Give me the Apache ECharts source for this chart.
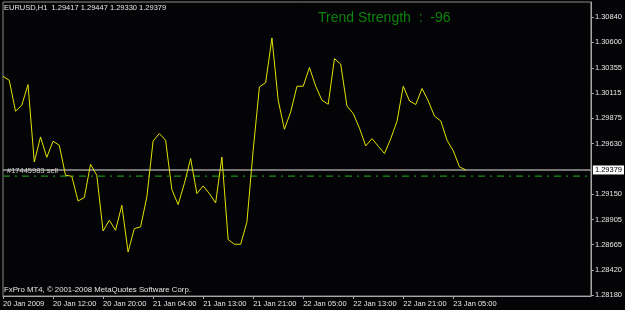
<!DOCTYPE html>
<html>
<head>
<meta charset="utf-8">
<script src="https://cdn.jsdelivr.net/npm/echarts@6/dist/echarts.min.js"></script>
<style>
html,body{margin:0;padding:0;background:#040406;}
#chart{width:625px;height:310px;}
</style>
</head>
<body>
<div id="chart"></div>
<script>
// ---- data ----
const closes = [
  1.30275, 1.30237, 1.29941, 1.29998, 1.30196, 1.29455, 1.29695, 1.29500, 1.29654, 1.29615,
  1.29328, 1.29319, 1.29082, 1.29115, 1.29433, 1.29328, 1.28795, 1.28898, 1.28802, 1.29041,
  1.28594, 1.28818, 1.28834, 1.29121, 1.29656, 1.29727, 1.29663, 1.29191, 1.29048, 1.29249,
  1.29488, 1.29153, 1.29226, 1.29153, 1.29063, 1.29503, 1.28713, 1.28668, 1.28668, 1.28879,
  1.29567, 1.30173, 1.30215, 1.30642, 1.30046, 1.29768, 1.29934, 1.30180, 1.30180, 1.30359,
  1.30180, 1.30046, 1.30008, 1.30445, 1.30390, 1.29991, 1.29919, 1.29778, 1.29609, 1.29679,
  1.29606, 1.29536, 1.29679, 1.29845, 1.30180, 1.30039, 1.30005, 1.30158, 1.30039, 1.29893,
  1.29848, 1.29663, 1.29561, 1.29408, 1.29379
];
const xTickLabels = ['20 Jan 2009','20 Jan 12:00','20 Jan 20:00','21 Jan 04:00','21 Jan 13:00',
  '21 Jan 21:00','22 Jan 05:00','22 Jan 13:00','22 Jan 21:00','23 Jan 05:00'];
const barsPerTick = 8;
const visibleBars = 95;
const yTickValues = [1.28180,1.28420,1.28665,1.28905,1.29150,1.29630,1.29875,1.30115,1.30355,1.30600,1.30840];
const bidPrice = 1.29379;
const orderPrice = 1.29320;
const orderLabel = '#17445983 sell';
const headerText = 'EURUSD,H1  1.29417 1.29447 1.29330 1.29379';
const trendText = 'Trend Strength  :  -96';
const footerText = 'FxPro MT4, \u00A9 2001-2008 MetaQuotes Software Corp.';

// ---- chart ----
const FONT = "'Liberation Sans', Arial, sans-serif";
const SMALL = 7.5;
const categories = [];
for (let i = 0; i < visibleBars; i++) categories.push(String(i));
const lastIdx = visibleBars - 1;
const showTick = (idx) => idx % barsPerTick === 0 && idx / barsPerTick < xTickLabels.length;

const chart = echarts.init(document.getElementById('chart'), null, {renderer: 'canvas'});
chart.setOption({
  backgroundColor: '#040406',
  animation: false,
  title: [
    {text: headerText, left: 4, top: 4, padding: 0,
     textStyle: {color: '#e6e6e6', fontSize: SMALL, fontWeight: 'normal', fontFamily: FONT}},
    {text: trendText, left: 318, top: 11, padding: 0,
     textStyle: {color: '#0c820c', fontSize: 14, fontWeight: 'normal', fontFamily: FONT}},
    {text: footerText, left: 4, top: 286, padding: 0,
     textStyle: {color: '#e6e6e6', fontSize: 7.8, fontWeight: 'normal', fontFamily: FONT}}
  ],
  grid: {left: 2, right: 30, top: 2, bottom: 14, show: true, borderColor: '#8a8a8a', borderWidth: 1, backgroundColor: 'transparent'},
  xAxis: {
    type: 'category',
    data: categories,
    boundaryGap: false,
    axisLine: {lineStyle: {color: '#a8a8a8'}},
    axisTick: {show: true, length: 3, inside: false, interval: showTick, lineStyle: {color: '#a8a8a8'}},
    axisLabel: {
      interval: showTick,
      align: 'left',
      margin: 4,
      color: '#e6e6e6',
      fontSize: SMALL,
      fontFamily: FONT,
      formatter: (v, idx) => showTick(idx) ? xTickLabels[idx / barsPerTick] : ''
    },
    splitLine: {show: false}
  },
  yAxis: {
    type: 'value',
    position: 'right',
    min: 1.28173,
    max: 1.30986,
    axisLine: {show: true, lineStyle: {color: '#a8a8a8'}},
    axisTick: {show: true, length: 3, customValues: yTickValues, lineStyle: {color: '#a8a8a8'}},
    axisLabel: {
      customValues: yTickValues,
      margin: 4,
      color: '#e6e6e6',
      fontSize: SMALL,
      fontFamily: FONT,
      formatter: v => v.toFixed(5)
    },
    splitLine: {show: false}
  },
  series: [
    {
      name: 'order',
      type: 'line',
      data: [
        {value: [0, orderPrice],
         label: {show: true, position: 'right', distance: 4, offset: [0, -5], formatter: orderLabel,
                 color: '#d0d0d0', fontSize: SMALL, fontFamily: FONT}},
        {value: [lastIdx, orderPrice]}
      ],
      symbol: 'circle', symbolSize: 0.01, showSymbol: true,
      lineStyle: {color: '#1a8a1a', width: 1.2, type: [7, 5, 2, 5]},
      itemStyle: {color: 'transparent'},
      silent: true, z: 1
    },
    {
      name: 'bid',
      type: 'line',
      data: [[0, bidPrice], [lastIdx, bidPrice]],
      symbol: 'none',
      lineStyle: {color: '#9a9a9a', width: 1.5},
      endLabel: {show: true, distance: 2, formatter: () => bidPrice.toFixed(5),
                 color: '#000', backgroundColor: '#ffffff', padding: [1, 2, 0, 2],
                 fontSize: SMALL, fontFamily: FONT},
      silent: true, z: 1
    },
    {
      name: 'EURUSD',
      type: 'line',
      data: closes,
      symbol: 'none',
      lineStyle: {color: '#e2e200', width: 1},
      silent: true, z: 3
    }
  ]
});
</script>
</body>
</html>
